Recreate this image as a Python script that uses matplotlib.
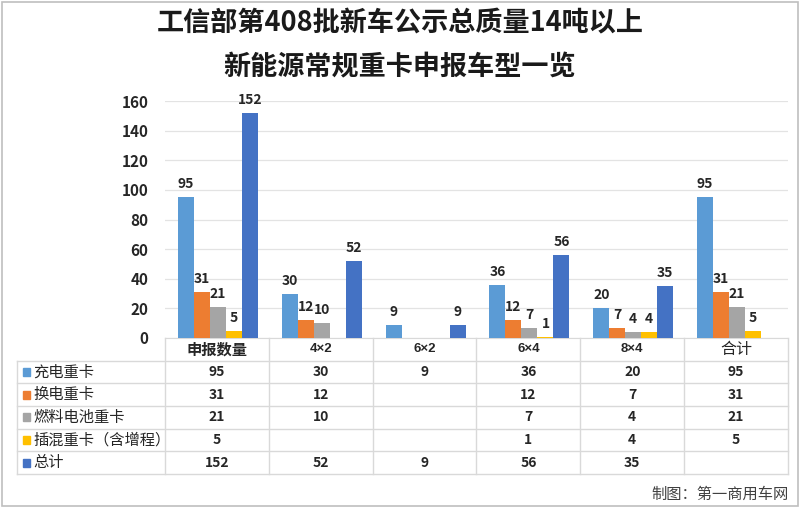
import matplotlib
matplotlib.use("Agg")
import matplotlib.pyplot as plt
import numpy as np
from matplotlib.patches import Rectangle

plt.rcParams['font.family'] = ['Noto Sans CJK SC', 'DejaVu Sans']

title_lines = ["工信部第408批新车公示总质量14吨以上", "新能源常规重卡申报车型一览"]
categories = ["申报数量", "4×2", "6×2", "6×4", "8×4", "合计"]
series_names = ["充电重卡", "换电重卡", "燃料电池重卡", "插混重卡（含增程）", "总计"]
charge = [95, 30, 9, 36, 20, 95]
swap = [31, 12, None, 12, 7, 31]
fuel_cell = [21, 10, None, 7, 4, 21]
phev = [5, None, None, 1, 4, 5]
total = [152, 52, 9, 56, 35, None]
series = [charge, swap, fuel_cell, phev, total]
colors = ["#5B9BD5", "#ED7D31", "#A5A5A5", "#FFC000", "#4472C4"]
yticks = [0, 20, 40, 60, 80, 100, 120, 140, 160]

W, H = 800, 508
fig = plt.figure(figsize=(8, 5.08), dpi=100)

def fx(px):
    return px / W

def fy(py):
    return 1 - py / H

# figure border
fig.patches.append(Rectangle((0.002, 0.003), 0.995, 0.994, transform=fig.transFigure,
                             fill=False, edgecolor="#BFBFBF", linewidth=1.2))

fig.text(0.5, fy(23), title_lines[0], ha="center", va="center", fontsize=19.5,
         fontweight="bold", color="#1a1a1a")
fig.text(0.5, fy(67), title_lines[1], ha="center", va="center", fontsize=19.5,
         fontweight="bold", color="#1a1a1a")

ax_l, ax_r, ax_t, ax_b = 165, 788, 101, 338
ax = fig.add_axes([fx(ax_l), fy(ax_b), fx(ax_r - ax_l), fy(ax_t) - fy(ax_b)])
n = len(categories)
x = np.arange(n)
bw = 0.154
for i, (vals, c) in enumerate(zip(series, colors)):
    off = (i - 2) * bw + 0.01
    xs = [xx + off for xx, v in zip(x, vals) if v is not None]
    vs = [v for v in vals if v is not None]
    bars = ax.bar(xs, vs, width=bw, color=c, zorder=3)
    for b, v in zip(bars, vs):
        ax.text(b.get_x() + b.get_width() / 2, v + 4, str(v), ha="center",
                va="bottom", fontsize=10, fontweight="bold", color="#262626")

ax.set_xlim(-0.5, n - 0.5)
ax.set_ylim(0, 160)
ax.set_yticks(yticks)
ax.set_yticklabels([str(t) for t in yticks], fontsize=11, fontweight="bold",
                   color="#262626")
ax.tick_params(axis="y", length=0, pad=12)
ax.set_xticks([])
for s in ["top", "right", "left"]:
    ax.spines[s].set_visible(False)
ax.spines["bottom"].set_color("#D9D9D9")
ax.grid(axis="y", color="#E3E3E3", linewidth=0.9, zorder=0)

# data table
tl, tr, ttop, tbot = 17, 788, 338, 474
tab = fig.add_axes([fx(tl), fy(tbot), fx(tr - tl), fy(ttop) - fy(tbot)])
units_per_px = n / (ax_r - ax_l)
xl = -0.5 - (ax_l - tl) * units_per_px
tab.set_xlim(xl, n - 0.5)
nrows = len(series) + 1
tab.set_ylim(nrows, 0)
tab.axis("off")
gc = "#D9D9D9"
for r in range(1, nrows + 1):
    tab.plot([xl, n - 0.5], [r, r], color=gc, lw=1, clip_on=False)
for b in np.arange(-0.5, n, 1.0):
    tab.plot([b, b], [0, nrows], color=gc, lw=1, clip_on=False)
tab.plot([xl, xl], [1, nrows], color=gc, lw=1, clip_on=False)

for j, cat in enumerate(categories):
    if cat == "合计":
        tab.text(j, 0.5, cat, ha="center", va="center", fontsize=11.5,
                 color="#262626")
    elif cat == "申报数量":
        tab.text(j, 0.5, cat, ha="center", va="center", fontsize=11,
                 fontweight="bold", color="#262626")
    else:
        tab.text(j, 0.5, cat, ha="center", va="center", fontsize=9.5,
                 fontweight="bold", color="#262626",
                 family=["Liberation Sans", "DejaVu Sans"])
for i, (name, vals, c) in enumerate(zip(series_names, series, colors)):
    r = i + 1.5
    tab.add_patch(Rectangle((xl + 0.055, r - 0.17), 0.075, 0.34, color=c,
                            clip_on=False))
    tab.text(xl + 0.16, r, name, ha="left", va="center", fontsize=11,
             color="#262626")
    for j, v in enumerate(vals):
        if v is not None:
            tab.text(j, r, str(v), ha="center", va="center", fontsize=10,
                     fontweight="bold", color="#262626")

fig.text(fx(789), fy(494), "制图：第一商用车网", ha="right", va="center",
         fontsize=11, color="#404040")

fig.savefig("out.png", dpi=100)
